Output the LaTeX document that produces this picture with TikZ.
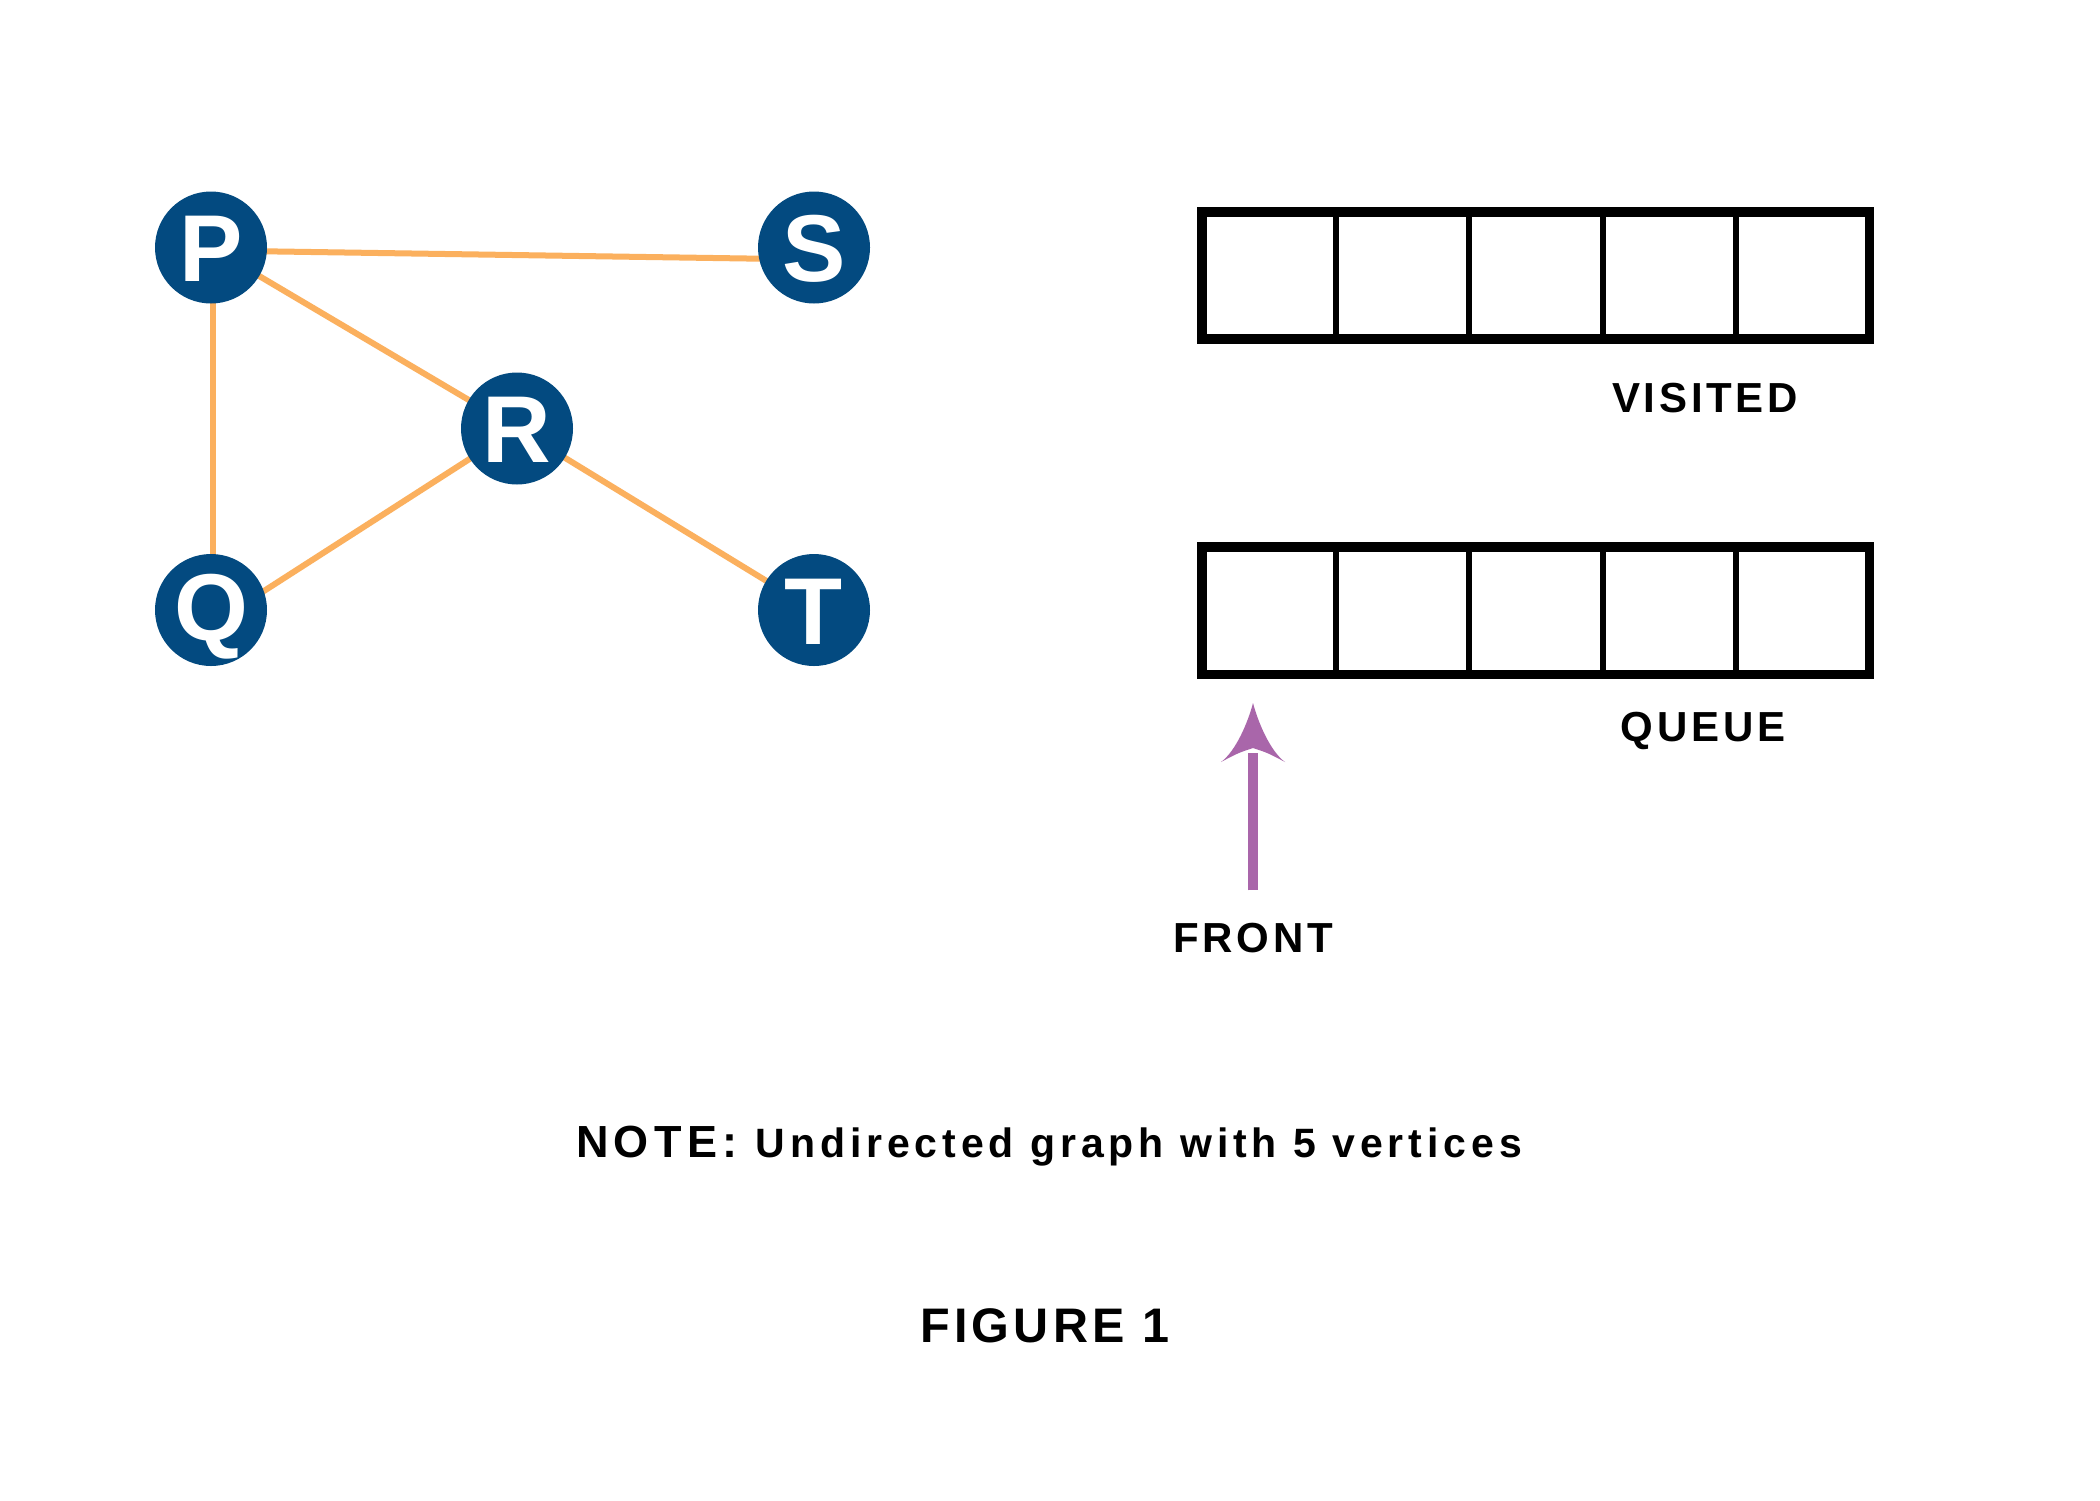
\documentclass[tikz,border=0pt]{standalone}
\usepackage{fontspec}
\setmainfont{Liberation Sans}
\newfontfamily\labfont{Liberation Sans}[LetterSpace=9]
\newfontfamily\notefont{Liberation Sans}[LetterSpace=12]
\usetikzlibrary{calc}
\pgfdeclarelayer{bg}
\pgfsetlayers{bg,main}
\definecolor{nodeblue}{HTML}{034A80}
\definecolor{edgeorange}{HTML}{FBB05E}
\definecolor{arrowpurple}{HTML}{A966AA}
\begin{document}
\begin{tikzpicture}[x=1pt,y=-1pt,
  vertex/.style={circle, fill=nodeblue, minimum size=112pt, inner sep=0pt, outer sep=0pt,
    text=white, font=\bfseries\fontsize{95}{95}\selectfont, text height=68pt, text depth=0pt},
  edge/.style={draw=edgeorange, line width=6pt},
  cellrow/.style={draw=black, line width=9.5pt, minimum width=667.5pt, minimum height=127.3pt,
    inner sep=0pt, outer sep=0pt},
  divider/.style={draw=black, line width=6pt},
  lab/.style={font=\labfont\bfseries\fontsize{42}{42}\selectfont, anchor=base, inner sep=0pt},
  arrowline/.style={draw=arrowpurple, line width=10pt},
]
\useasboundingbox (0,0) rectangle (2100,1500);
\begin{pgfonlayer}{bg}
  \fill[white] (0,0) rectangle (2100,1500);
\end{pgfonlayer}

% graph vertices
\node[vertex] (P) at (211,247.5) {P};
\node[vertex] (S) at (814,247.5) {S};
\node[vertex] (R) at (517,428.5) {R};
\node[vertex] (Q) at (211,610) {\raisebox{4pt}{Q}};
\node[vertex] (T) at (814,610) {T};

% edges
\begin{pgfonlayer}{bg}
  \draw[edge] ([yshift=-3pt]P.center) -- ([yshift=-12pt]S.center);
  \draw[edge] ([xshift=1.5pt]P.center) -- ([xshift=1.5pt]Q.center);
  \draw[edge] (P.center) -- (R.center);
  \draw[edge] ([yshift=-15pt]Q.center) -- (R.center);
  \draw[edge] (R.center) -- (T.center);
\end{pgfonlayer}

% visited array
\node[cellrow] (visited) at (1535.75,275.4) {};
\foreach \i in {1,...,4}
  \draw[divider] ([xshift=\i*133.5pt]visited.north west) -- ([xshift=\i*133.5pt]visited.south west);
\node[lab] (vlabel) at (1705,412.7) {VISITED};

% queue array
\node[cellrow] (queue) at (1535.75,610.6) {};
\foreach \i in {1,...,4}
  \draw[divider] ([xshift=\i*133.5pt]queue.north west) -- ([xshift=\i*133.5pt]queue.south west);
\node[lab] (qlabel) at (1703,741.5) {QUEUE};

% front pointer
\node[lab] (front) at (1253,952) {FRONT};
\coordinate (ftip) at (1253,703);
\draw[arrowline] ([yshift=32pt]front.north) -- ($(ftip)+(0,50)$);
\fill[arrowpurple] (ftip) .. controls ($(ftip)+(-5,19)$) and ($(ftip)+(-17,48)$) .. ($(ftip)+(-32,59)$)
  .. controls ($(ftip)+(-15,50)$) .. ($(ftip)+(0,45)$)
  .. controls ($(ftip)+(15,50)$) .. ($(ftip)+(32,59)$)
  .. controls ($(ftip)+(17,48)$) and ($(ftip)+(5,19)$) .. (ftip) -- cycle;

% note and caption
\node[anchor=base, inner sep=0pt] (note) at (1049,1157)
  {{\notefont\bfseries\fontsize{45}{45}\selectfont NOTE: }{\notefont\bfseries\fontsize{41}{41}\selectfont Undirected graph with 5 vertices}};
\node[lab, font=\labfont\bfseries\fontsize{48.5}{48.5}\selectfont] (fig) at (1045,1342) {FIGURE 1};
\end{tikzpicture}
\end{document}
